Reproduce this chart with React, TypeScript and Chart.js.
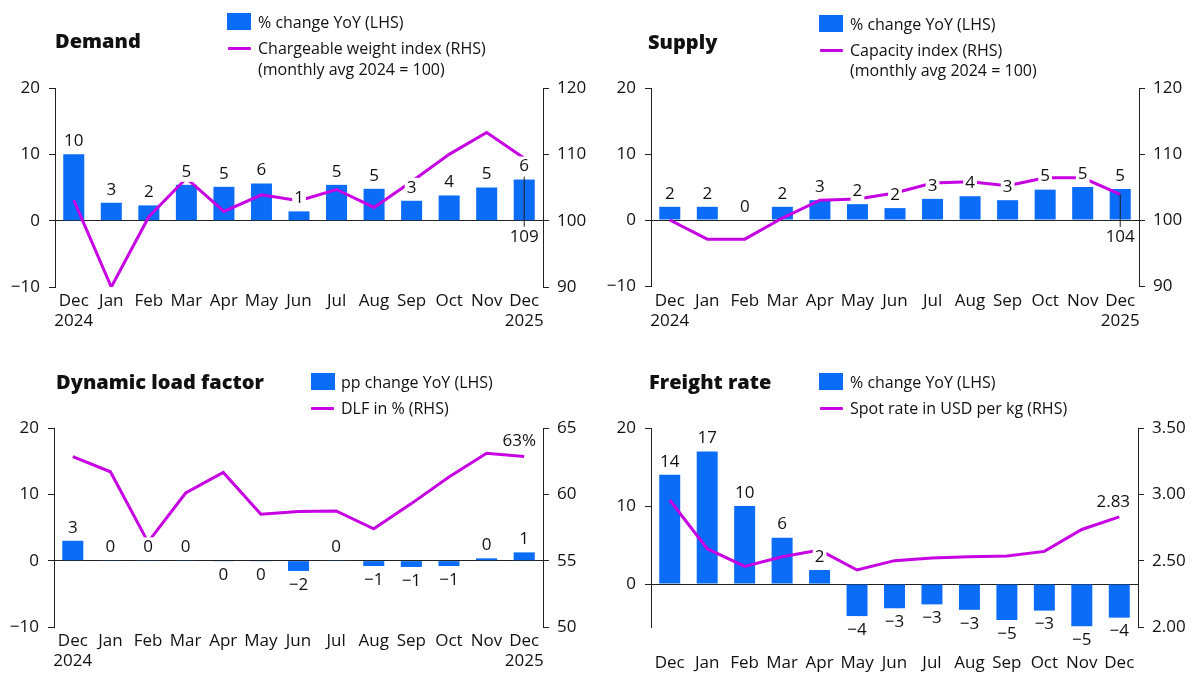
import React, { useEffect, useRef } from 'react';
import { Chart, registerables } from 'chart.js';

Chart.register(...registerables);

const FONT = '"Open Sans", "Noto Sans", sans-serif';
const BLUE = '#0A6CF7';
const MAGENTA = '#C600E2';
const AXIS = '#222222';
const TEXT = '#111111';

// ---------- data ----------
const monthsWithYears: (string | string[])[] = [
  ['Dec', '2024'], 'Jan', 'Feb', 'Mar', 'Apr', 'May', 'Jun', 'Jul', 'Aug', 'Sep', 'Oct', 'Nov', ['Dec', '2025'],
];
const monthsPlain: string[] = ['Dec', 'Jan', 'Feb', 'Mar', 'Apr', 'May', 'Jun', 'Jul', 'Aug', 'Sep', 'Oct', 'Nov', 'Dec'];

const demandYoY = [10.0, 2.7, 2.3, 5.4, 5.1, 5.6, 1.4, 5.4, 4.8, 3.0, 3.8, 5.0, 6.2];
const demandIndex = [103.1, 90.0, 100.6, 106.4, 101.4, 103.9, 103.0, 104.7, 102.0, 105.9, 110.0, 113.3, 109.4];

const supplyYoY = [2.0, 2.0, 0.0, 2.0, 3.0, 2.4, 1.8, 3.2, 3.6, 3.0, 4.6, 5.0, 4.7];
const supplyIndex = [100.0, 97.1, 97.1, 100.3, 103.0, 103.2, 104.1, 105.6, 105.8, 105.2, 106.4, 106.4, 103.9];

const dlfYoY = [3.0, 0.05, 0.05, 0.05, -0.05, -0.05, -1.55, 0.1, -0.8, -0.95, -0.8, 0.35, 1.25];
const dlfPct = [62.85, 61.7, 56.4, 60.1, 61.65, 58.5, 58.7, 58.75, 57.4, 59.3, 61.3, 63.1, 62.85];

const freightYoY = [14.0, 17.0, 10.0, 5.95, 1.8, -4.1, -3.1, -2.6, -3.3, -4.6, -3.4, -5.4, -4.3];
const freightRate = [2.957, 2.59, 2.457, 2.53, 2.58, 2.43, 2.5, 2.52, 2.53, 2.535, 2.57, 2.735, 2.83];

const lhsTicksStd = [-10, 0, 10, 20];
const lhsTicksFreight = [0, 10, 20];

// ---------- panel config ----------
type EndLabel = { text: string; mode: 'leader' | 'above'; dx: number; dy: number };
type PanelCfg = {
  frame: { left: number; top: number; width: number; height: number };
  area: { left: number; right: number; top: number; bottom: number };
  xLabels: (string | string[])[];
  xPad: number;
  bars: number[];
  line: number[];
  yMin: number; yMax: number; yTicks: number[];
  y1Min: number; y1Max: number; y1Step: number; y1Fmt: (v: number) => string;
  end: EndLabel;
};

const minus = (s: string) => s.replace('-', '\u2212');
const round0 = (v: number) => minus(String(Math.round(v) || 0));

const panels: PanelCfg[] = [
  {
    frame: { left: 0, top: 0, width: 600, height: 340 },
    area: { left: 55, right: 543, top: 88, bottom: 287 },
    xLabels: monthsWithYears, xPad: 4, bars: demandYoY, line: demandIndex,
    yMin: -10, yMax: 20, yTicks: lhsTicksStd,
    y1Min: 90, y1Max: 120, y1Step: 10, y1Fmt: (v) => String(v),
    end: { text: round0(demandIndex[demandIndex.length - 1]), mode: 'leader', dx: 0, dy: 16 },
  },
  {
    frame: { left: 600, top: 0, width: 600, height: 340 },
    area: { left: 651, right: 1139, top: 88, bottom: 286 },
    xLabels: monthsWithYears, xPad: 5, bars: supplyYoY, line: supplyIndex,
    yMin: -10, yMax: 20, yTicks: lhsTicksStd,
    y1Min: 90, y1Max: 120, y1Step: 10, y1Fmt: (v) => String(v),
    end: { text: round0(supplyIndex[supplyIndex.length - 1]), mode: 'leader', dx: 0, dy: 17 },
  },
  {
    frame: { left: 0, top: 340, width: 600, height: 335 },
    area: { left: 54, right: 543, top: 428, bottom: 627 },
    xLabels: monthsWithYears, xPad: 4, bars: dlfYoY, line: dlfPct,
    yMin: -10, yMax: 20, yTicks: lhsTicksStd,
    y1Min: 50, y1Max: 65, y1Step: 5, y1Fmt: (v) => String(v),
    end: { text: round0(dlfPct[dlfPct.length - 1]) + '%', mode: 'above', dx: -5, dy: -15 },
  },
  {
    frame: { left: 600, top: 340, width: 600, height: 335 },
    area: { left: 651, right: 1138, top: 428, bottom: 627 },
    xLabels: monthsPlain, xPad: 26, bars: freightYoY, line: freightRate,
    yMin: -5.5, yMax: 20, yTicks: lhsTicksFreight,
    y1Min: 2.0, y1Max: 3.5, y1Step: 0.5, y1Fmt: (v) => v.toFixed(2),
    end: { text: freightRate[freightRate.length - 1].toFixed(2), mode: 'above', dx: -6, dy: -15 },
  },
];

const TICK_FONT = { family: FONT, size: 17 };

function drawBoxedText(ctx: CanvasRenderingContext2D, text: string, x: number, y: number) {
  ctx.save();
  ctx.font = `17px ${FONT}`;
  const w = ctx.measureText(text).width;
  ctx.fillStyle = '#ffffff';
  ctx.fillRect(x - w / 2 - 2, y - 10, w + 4, 20);
  ctx.fillStyle = TEXT;
  ctx.textAlign = 'center';
  ctx.textBaseline = 'middle';
  ctx.fillText(text, x, y);
  ctx.restore();
}

function Panel({ cfg }: { cfg: PanelCfg }) {
  const ref = useRef<HTMLCanvasElement | null>(null);
  useEffect(() => {
    if (!ref.current) return;
    const f = cfg.frame;
    const a = cfg.area;
    const leftW = a.left - f.left;
    const rightW = f.left + f.width - a.right;
    const bottomH = f.top + f.height - a.bottom;
    const topPad = a.top - f.top;

    const labelPlugin = {
      id: 'labels',
      afterDatasetsDraw(chart: any) {
        const ctx: CanvasRenderingContext2D = chart.ctx;
        const barMeta = chart.getDatasetMeta(1);
        const lineMeta = chart.getDatasetMeta(0);
        const yScale = chart.scales.y;
        const zeroY = yScale.getPixelForValue(0);
        const lastPt = lineMeta.data[lineMeta.data.length - 1];
        if (cfg.end.mode === 'leader') {
          ctx.save();
          ctx.strokeStyle = AXIS;
          ctx.lineWidth = 1;
          ctx.beginPath();
          ctx.moveTo(lastPt.x, lastPt.y);
          ctx.lineTo(lastPt.x, zeroY + cfg.end.dy - 9);
          ctx.stroke();
          ctx.restore();
        }
        barMeta.data.forEach((el: any, i: number) => {
          const v = cfg.bars[i];
          const txt = round0(v);
          const y = v >= 0 ? el.y - 13 : el.y + 14;
          drawBoxedText(ctx, txt, el.x, y);
        });
        if (cfg.end.mode === 'leader') {
          drawBoxedText(ctx, cfg.end.text, lastPt.x + cfg.end.dx, zeroY + cfg.end.dy);
        } else {
          drawBoxedText(ctx, cfg.end.text, lastPt.x + cfg.end.dx, lastPt.y + cfg.end.dy);
        }
      },
    };

    const chart = new Chart(ref.current, {
      type: 'bar',
      data: {
        labels: cfg.xLabels as any,
        datasets: [
          {
            type: 'line',
            data: cfg.line,
            yAxisID: 'y1',
            borderColor: MAGENTA,
            borderWidth: 3,
            pointRadius: 0,
            tension: 0,
            order: 0,
          } as any,
          {
            type: 'bar',
            data: cfg.bars,
            yAxisID: 'y',
            backgroundColor: BLUE,
            barPercentage: 0.56,
            categoryPercentage: 1,
            order: 1,
          } as any,
        ],
      },
      options: {
        animation: false,
        responsive: false,
        maintainAspectRatio: false,
        events: [],
        layout: { padding: { top: topPad, left: 0, right: 0, bottom: 0 } },
        plugins: { legend: { display: false }, tooltip: { enabled: false }, title: { display: false } },
        scales: {
          x: {
            offset: true,
            grid: { display: false, drawTicks: false },
            border: { display: false },
            ticks: { font: TICK_FONT, color: TEXT, padding: cfg.xPad, maxRotation: 0, autoSkip: false },
            afterFit: (s: any) => { s.height = bottomH; },
          },
          y: {
            position: 'left',
            min: cfg.yMin,
            max: cfg.yMax,
            afterBuildTicks: (s: any) => { s.ticks = cfg.yTicks.map((v) => ({ value: v })); },
            ticks: { font: TICK_FONT, color: TEXT, padding: 9, callback: (v: any) => minus(String(v)) },
            border: { display: true, color: AXIS, width: 1 },
            grid: {
              drawOnChartArea: true,
              color: (c: any) => (c.tick && c.tick.value === 0 ? AXIS : 'rgba(0,0,0,0)'),
              tickColor: AXIS,
              tickLength: 6,
              lineWidth: 1,
            },
            afterFit: (s: any) => { s.width = leftW; },
          },
          y1: {
            position: 'right',
            min: cfg.y1Min,
            max: cfg.y1Max,
            ticks: { stepSize: cfg.y1Step, font: TICK_FONT, color: TEXT, padding: 8, callback: (v: any) => cfg.y1Fmt(Number(v)) },
            border: { display: true, color: AXIS, width: 1 },
            grid: { drawOnChartArea: false, tickColor: AXIS, tickLength: 6 },
            afterFit: (s: any) => { s.width = rightW; },
          },
        },
      } as any,
      plugins: [labelPlugin as any],
    });
    return () => chart.destroy();
  }, [cfg]);
  const f = cfg.frame;
  return (
    <canvas
      ref={ref}
      width={f.width}
      height={f.height}
      style={{ position: 'absolute', left: f.left, top: f.top, width: f.width, height: f.height }}
    />
  );
}

type TextItem = { text: string; x: number; cy: number; bold?: boolean; size?: number };
type Swatch = { kind: 'box' | 'line'; x: number; cy: number };

const texts: TextItem[] = [
  { text: 'Demand', x: 55, cy: 41, bold: true, size: 20 },
  { text: '% change YoY (LHS)', x: 258, cy: 22 },
  { text: 'Chargeable weight index (RHS)', x: 258, cy: 48 },
  { text: '(monthly avg 2024 = 100)', x: 258, cy: 69 },
  { text: 'Supply', x: 648, cy: 42, bold: true, size: 20 },
  { text: '% change YoY (LHS)', x: 850, cy: 24 },
  { text: 'Capacity index (RHS)', x: 850, cy: 50 },
  { text: '(monthly avg 2024 = 100)', x: 850, cy: 70 },
  { text: 'Dynamic load factor', x: 56, cy: 382, bold: true, size: 20 },
  { text: 'pp change YoY (LHS)', x: 341, cy: 382 },
  { text: 'DLF in % (RHS)', x: 341, cy: 408 },
  { text: 'Freight rate', x: 649, cy: 382, bold: true, size: 20 },
  { text: '% change YoY (LHS)', x: 850, cy: 382 },
  { text: 'Spot rate in USD per kg (RHS)', x: 850, cy: 408 },
];

const swatches: Swatch[] = [
  { kind: 'box', x: 227, cy: 22 },
  { kind: 'line', x: 228, cy: 48 },
  { kind: 'box', x: 819, cy: 24 },
  { kind: 'line', x: 820, cy: 50 },
  { kind: 'box', x: 311, cy: 382 },
  { kind: 'line', x: 311, cy: 408 },
  { kind: 'box', x: 819, cy: 382 },
  { kind: 'line', x: 820, cy: 408 },
];

export default function App() {
  return (
    <div style={{ position: 'fixed', left: 0, top: 0, width: 1200, height: 675, background: '#ffffff', overflow: 'hidden', fontFamily: FONT }}>
      {panels.map((p, i) => (
        <Panel key={i} cfg={p} />
      ))}
      {swatches.map((s, i) =>
        s.kind === 'box' ? (
          <div key={'s' + i} style={{ position: 'absolute', left: s.x, top: s.cy - 9, width: 24, height: 17, background: BLUE }} />
        ) : (
          <div key={'s' + i} style={{ position: 'absolute', left: s.x, top: s.cy - 1.5, width: 23, height: 3, background: MAGENTA, borderRadius: 1 }} />
        )
      )}
      {texts.map((t, i) => (
        <div
          key={'t' + i}
          style={{
            position: 'absolute',
            left: t.x,
            top: t.cy - 12,
            height: 24,
            lineHeight: '24px',
            fontSize: t.size || 16,
            fontWeight: t.bold ? 800 : 400,
            color: TEXT,
            whiteSpace: 'nowrap',
          }}
        >
          {t.text}
        </div>
      ))}
    </div>
  );
}
